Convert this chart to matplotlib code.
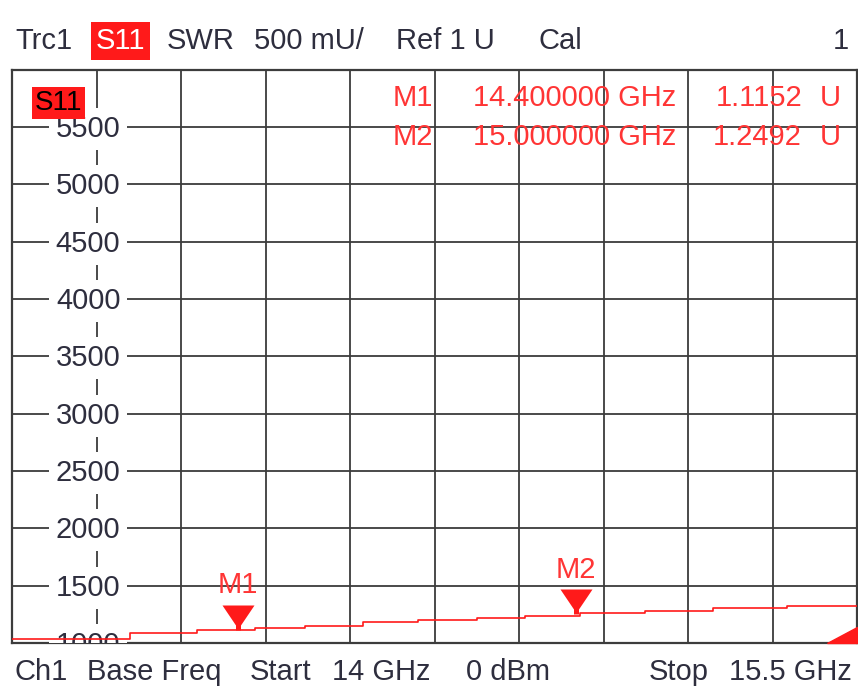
import numpy as np
import matplotlib.pyplot as plt
from matplotlib.path import Path
from matplotlib.transforms import offset_copy

plt.rcParams['font.family'] = ['Liberation Sans', 'DejaVu Sans']

# S11 SWR trace: step start frequency (GHz) and value (U)
freq_ghz = [14.000, 14.209, 14.328, 14.431, 14.519, 14.623, 14.720,
            14.825, 14.910, 15.008, 15.123, 15.244, 15.376, 15.500]
swr = [1.033, 1.087, 1.113, 1.130, 1.152, 1.183, 1.200,
       1.217, 1.239, 1.261, 1.283, 1.304, 1.326, 1.326]

# markers
marker_names = ['M1', 'M2']
marker_freq = [14.4, 15.0]
marker_swr = [1.1152, 1.2492]

# y scale labels (mU) on the first vertical division
ytick_vals = [1.0, 1.5, 2.0, 2.5, 3.0, 3.5, 4.0, 4.5, 5.0, 5.5]
ytick_labels = ['1000', '1500', '2000', '2500', '3000', '3500', '4000', '4500', '5000', '5500']

header_texts = ['Trc1', 'S11', 'SWR', '500 mU/', 'Ref 1 U', 'Cal', '1']
footer_texts = ['Ch1', 'Base Freq', 'Start', '14 GHz', '0 dBm', 'Stop', '15.5 GHz']

W, H = 858, 690
red = '#ff1a1a'
red_txt = '#ff3535'
txt_col = '#2e2e3e'
grid_col = '#3c3c3c'
fs = 21

fig = plt.figure(figsize=(W / 100, H / 100), dpi=100)
ax = fig.add_axes([12.3 / W, (H - 643) / H, 845 / W, 573.3 / H])
ax.set_xlim(14.0, 15.5)
ax.set_ylim(1.0, 6.0)
xgrid = np.linspace(14.0, 15.5, 11)
ax.set_xticks(xgrid)
ax.set_yticks(np.linspace(1.0, 6.0, 11))
ax.tick_params(length=0, labelleft=False, labelbottom=False)
ax.grid(True, color=grid_col, lw=1.3, zorder=1)
ax.set_axisbelow(True)
for sp in ax.spines.values():
    sp.set_color(grid_col)
    sp.set_linewidth(1.6)

# scale labels, white boxes cut the first vertical line into dashes
lab_tr = offset_copy(ax.transData, fig=fig, x=17, y=-1.5, units='points')
for v, lab in zip(ytick_vals, ytick_labels):
    ax.text(xgrid[1], v, lab, transform=lab_tr, ha='right', va='center',
            fontsize=fs, color=txt_col, clip_on=True, zorder=3,
            bbox=dict(fc='white', ec='none', pad=5))

# trace
ax.plot(freq_ghz, swr, drawstyle='steps-post', color=red, lw=1.2, zorder=4)

# marker triangles, tip on the trace value
tri = Path([(-0.1, 0), (0.1, 0), (0.1, 0.2), (0.64, 1), (-0.64, 1), (-0.1, 0.2), (-0.1, 0)],
           [Path.MOVETO] + [Path.LINETO] * 5 + [Path.CLOSEPOLY])
ax.plot(marker_freq, marker_swr, ls='none', marker=tri, ms=36, color=red, mec='none', zorder=5)
for name, f, v in zip(marker_names, marker_freq, marker_swr):
    ax.annotate(name, xy=(f, v), xytext=(0, 32), textcoords='offset points',
                ha='center', va='center', color=red_txt, fontsize=fs, zorder=5)

# overflow indicator in the bottom right corner
ax.fill([1 - 30 / 845, 1, 1], [0, 0, 16 / 573.3], color=red, transform=ax.transAxes,
        zorder=5, clip_on=False)

# trace name in the diagram
fig.text(35 / W, 1 - 103 / H, 'S11', ha='left', va='center', fontsize=20, color='black',
         bbox=dict(fc=red, ec='none', pad=2))

# marker readouts
for i, (name, f, v) in enumerate(zip(marker_names, marker_freq, marker_swr)):
    yb = 1 - (106 + 39 * i) / H
    fig.text(393 / W, yb, name, ha='left', va='baseline', fontsize=fs, color=red_txt)
    fig.text(676 / W, yb, f'{f:.6f} GHz', ha='right', va='baseline', fontsize=fs, color=red_txt)
    fig.text(802 / W, yb, f'{v:.4f}', ha='right', va='baseline', fontsize=fs, color=red_txt)
    fig.text(841 / W, yb, 'U', ha='right', va='baseline', fontsize=fs, color=red_txt)

# header line
header_x = [15, 96, 167, 254, 396, 539, 849]
for i, (t, x) in enumerate(zip(header_texts, header_x)):
    if t == 'S11':
        fig.text(x / W, 1 - 49 / H, t, ha='left', va='baseline', fontsize=fs, color='white',
                 bbox=dict(fc=red, ec='none', pad=3.5))
    else:
        fig.text(x / W, 1 - 49 / H, t, ha='right' if i == len(header_texts) - 1 else 'left',
                 va='baseline', fontsize=fs, color=txt_col)

# footer line
footer_x = [15, 87, 250, 332, 466, 649, 852]
for i, (t, x) in enumerate(zip(footer_texts, footer_x)):
    fig.text(x / W, 1 - 680 / H, t, ha='right' if i == len(footer_texts) - 1 else 'left',
             va='baseline', fontsize=fs, color=txt_col)

fig.savefig('out.png', dpi=100, facecolor='white')
